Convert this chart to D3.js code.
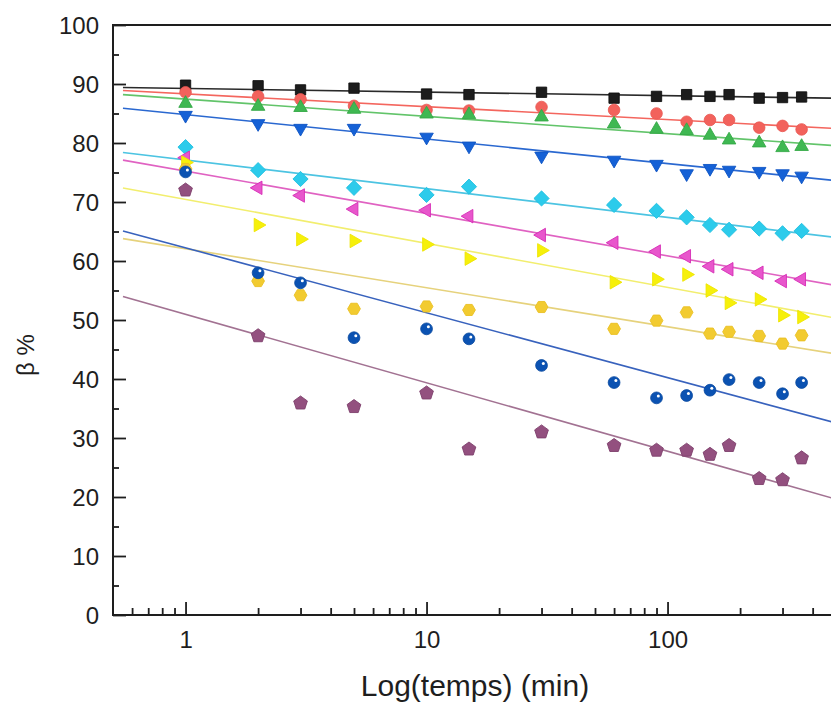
<!DOCTYPE html>
<html><head><meta charset="utf-8">
<script src="https://cdn.jsdelivr.net/npm/d3@7"></script>
<style>
html,body{margin:0;padding:0;background:#fff;}
svg{display:block;font-family:"Liberation Sans",Arial,sans-serif;}
</style></head>
<body>
<svg id="chart" width="831" height="704"></svg>
<script>
// ---- data ----
const times = [1, 2, 3, 5, 10, 15, 30, 60, 90, 120, 150, 180, 240, 300, 360];
const seriesNames = ["S1","S2","S3","S4","S5","S6","S7","S8","S9","S10"];
const sBlack   = [89.8, 89.7, 89.0, 89.3, 88.3, 88.2, 88.6, 87.6, 87.9, 88.2, 87.9, 88.2, 87.6, 87.7, 87.8];
const sRed     = [88.6, 87.9, 87.4, 86.3, 85.6, 85.5, 86.1, 85.6, 85.0, 83.6, 83.9, 83.9, 82.6, 82.9, 82.3];
const sGreen   = [86.7, 86.2, 86.0, 85.7, 84.9, 84.8, 84.4, 83.2, 82.3, 82.1, 81.3, 80.5, 80.0, 79.2, 79.4];
const sBlue    = [84.7, 83.3, 82.5, 82.5, 81.0, 79.5, 77.8, 77.1, 76.4, 74.8, 75.7, 75.4, 75.2, 74.8, 74.4];
const sCyan    = [79.3, 75.4, 73.9, 72.4, 71.2, 72.6, 70.6, 69.5, 68.5, 67.4, 66.1, 65.3, 65.5, 64.7, 65.1];
const sMagenta = [77.5, 72.4, 71.1, 68.8, 68.6, 67.6, 64.4, 63.1, 61.6, 60.8, 59.1, 58.6, 58.0, 56.6, 56.9];
const sYellow  = [76.7, 66.1, 63.7, 63.4, 62.8, 60.4, 61.8, 56.4, 56.9, 57.7, 55.0, 52.9, 53.5, 50.8, 50.5];
const sGold    = [75.6, 56.6, 54.2, 51.9, 52.3, 51.7, 52.2, 48.5, 49.9, 51.3, 47.7, 48.0, 47.3, 46.0, 47.4];
const sNavy    = [75.1, 58.0, 56.3, 47.0, 48.5, 46.8, 42.3, 39.4, 36.8, 37.2, 38.1, 39.9, 39.4, 37.5, 39.4];
const sPurple  = [72.0, 47.3, 35.9, 35.3, 37.6, 28.1, 31.0, 28.7, 27.9, 27.9, 27.2, 28.7, 23.1, 22.9, 26.6];
// linear fits  beta = a + b*log10(t)
const fitIntercept = [89.24, 88.33, 87.44, 84.82, 77.13, 75.23, 70.45, 62.08, 62.23, 50.97];
const fitSlope     = [-0.61, -2.18, -2.93, -4.15, -4.87, -7.18, -7.46, -6.61, -11.0, -11.61];
const fitRange = [0.55, 1000];
const yTicks = [0,10,20,30,40,50,60,70,80,90,100];
const yMinor = [5,15,25,35,45,55,65,75,85,95];
const xTicks = [1,10,100];
const xTitle = "Log(temps) (min)";
const yTitle = "β %";

const allValues = [sBlack,sRed,sGreen,sBlue,sCyan,sMagenta,sYellow,sGold,sNavy,sPurple];
const styles = [
  {shape:"square",  fill:"#1c1c1c", stroke:"#111",    line:"#2a2a2a"},
  {shape:"circle",  fill:"#f2625c", stroke:"#e85650", line:"#f4665e"},
  {shape:"triUp",   fill:"#3fb852", stroke:"#34a846", line:"#62c46a"},
  {shape:"triDown", fill:"#1561d6", stroke:"#0f55c4", line:"#2a68d0"},
  {shape:"diamond", fill:"#2ccbeb", stroke:"#1fbfe0", line:"#4cc4e2"},
  {shape:"triLeft", fill:"#e856cc", stroke:"#d62cb6", line:"#e062c2"},
  {shape:"triRight",fill:"#f6f00a", stroke:"#eee400", line:"#f2ee6e"},
  {shape:"hexagon", fill:"#f2cb30", stroke:"#eabf22", line:"#e6d27c"},
  {shape:"sphere",  fill:"#0b52b2", stroke:"#08489e", line:"#3862bd"},
  {shape:"pentagon",fill:"#93507f", stroke:"#7e3f6c", line:"#a27292"}
];

// ---- layout ----
const svg = d3.select("#chart");
const x = d3.scaleLog().domain([0.5, 1000]).range([113, 113 + 241*Math.log10(2000)]);
const y = d3.scaleLinear().domain([0, 100]).range([615, 25]);
const X0 = x(0.5), XR = 831, YT = y(100), YB = y(0);

svg.append("defs").append("clipPath").attr("id","plotclip")
  .append("rect").attr("x",X0).attr("y",YT).attr("width",XR-X0).attr("height",YB-YT);

// fit lines
const lineGen = d3.line().x(d=>x(d[0])).y(d=>y(d[1]));
const gLines = svg.append("g").attr("clip-path","url(#plotclip)");
fitIntercept.forEach((a,i)=>{
  const pts = fitRange.map(t=>[t, a + fitSlope[i]*Math.log10(t)]);
  gLines.append("path").attr("d",lineGen(pts)).attr("fill","none")
    .attr("stroke",styles[i].line).attr("stroke-width",1.6);
});

// markers
function poly(n, r, rotDeg){
  const p=[];
  for(let k=0;k<n;k++){
    const a=(rotDeg+360*k/n)*Math.PI/180;
    p.push([r*Math.cos(a), r*Math.sin(a)]);
  }
  return "M"+p.map(q=>q[0].toFixed(2)+","+q[1].toFixed(2)).join("L")+"Z";
}
const shapePath = {
  square:  poly(4, 7.3, 45),
  diamond: poly(4, 7.6, 0),
  triUp:   poly(3, 7.8, -90),
  triDown: poly(3, 7.8, 90),
  triLeft: poly(3, 7.8, 180),
  triRight:poly(3, 7.8, 0),
  hexagon: poly(6, 6.4, 0),
  pentagon:poly(5, 7.2, -90)
};
const gMarks = svg.append("g");
allValues.forEach((vals,i)=>{
  const st = styles[i];
  const g = gMarks.append("g").attr("class","series-"+seriesNames[i]);
  vals.forEach((v,j)=>{
    const gx = g.append("g").attr("transform",`translate(${x(times[j])},${y(v)})`);
    if(st.shape==="circle"){
      gx.append("circle").attr("r",5.8).attr("fill",st.fill).attr("stroke",st.stroke).attr("stroke-width",0.8);
    } else if(st.shape==="sphere"){
      gx.append("circle").attr("r",5.9).attr("fill",st.fill).attr("stroke",st.stroke).attr("stroke-width",0.8);
      gx.append("circle").attr("cx",1.8).attr("cy",-2).attr("r",1.5).attr("fill","#fff");
    } else {
      gx.append("path").attr("d",shapePath[st.shape]).attr("fill",st.fill)
        .attr("stroke",st.stroke).attr("stroke-width",0.9);
    }
  });
});

// axes
const axisColor = "#1e1e1e";
const yAxis = svg.append("g").attr("transform",`translate(${X0},0)`)
  .call(d3.axisLeft(y).tickValues(yTicks).tickSize(-13).tickPadding(14).tickFormat(d3.format("d")));
const yAxisMinor = svg.append("g").attr("transform",`translate(${X0},0)`)
  .call(d3.axisLeft(y).tickValues(yMinor).tickSize(-6).tickFormat(""));
const xAxis = svg.append("g").attr("transform",`translate(0,${YB})`)
  .call(d3.axisBottom(x).tickValues(xTicks).tickSize(-13).tickPadding(16).tickFormat(d3.format("d")));
const xMinorVals = [];
[0.1,1,10,100].forEach(dec=>{ for(let k=2;k<=9;k++){ const v=dec*k; if(v>0.5 && v<1000) xMinorVals.push(v);} });
const xAxisMinor = svg.append("g").attr("transform",`translate(0,${YB})`)
  .call(d3.axisBottom(x).tickValues(xMinorVals).tickSize(-7).tickFormat(""));
[yAxis,yAxisMinor,xAxis,xAxisMinor].forEach(g=>{
  g.select(".domain").remove();
  g.selectAll(".tick line").attr("stroke",axisColor).attr("stroke-width",1.8);
  g.selectAll(".tick text").attr("fill",axisColor).attr("font-size",24)
   .attr("font-family","'Liberation Sans',Arial,sans-serif");
});
yAxis.selectAll(".tick text").attr("dy","0.36em");

// frame lines
const frame = svg.append("g").attr("stroke",axisColor).attr("stroke-width",2).attr("fill","none");
frame.append("line").attr("x1",X0).attr("x2",XR).attr("y1",YT).attr("y2",YT);
frame.append("line").attr("x1",X0).attr("x2",X0).attr("y1",YT-1).attr("y2",YB+1);
frame.append("line").attr("x1",X0).attr("x2",XR).attr("y1",YB).attr("y2",YB);

// titles
svg.append("text").attr("x",475).attr("y",696).attr("text-anchor","middle")
  .attr("font-size",30).attr("fill",axisColor).text(xTitle);
svg.append("text").attr("transform","translate(34,355) rotate(-90)").attr("text-anchor","middle")
  .attr("font-size",24).attr("fill",axisColor).text(yTitle);
</script>
</body></html>
